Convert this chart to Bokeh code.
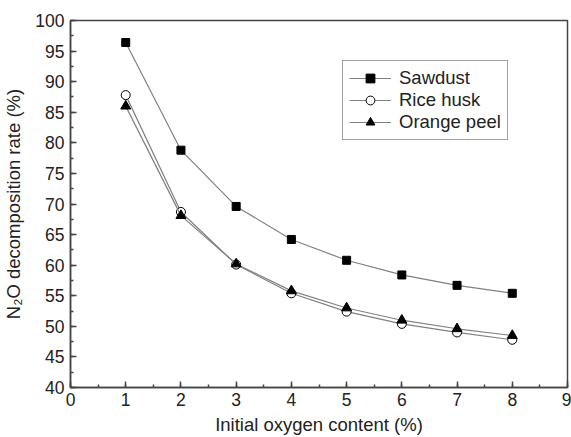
from bokeh.plotting import figure
from bokeh.models import Range1d, SingleIntervalTicker, Legend, LegendItem
from bokeh.embed import file_html
from bokeh.resources import INLINE

oxygen = [1, 2, 3, 4, 5, 6, 7, 8]
sawdust = [96.4, 78.8, 69.6, 64.2, 60.8, 58.4, 56.7, 55.4]
rice_husk = [87.8, 68.7, 60.1, 55.4, 52.4, 50.4, 49.0, 47.8]
orange_peel = [86.0, 68.1, 60.2, 55.8, 53.0, 51.0, 49.6, 48.5]

FONT = "Liberation Sans"
TXT = "#222222"
AX = "#444444"

p = figure(width=571, height=437, output_backend="svg", toolbar_location=None,
           x_range=Range1d(0, 9), y_range=Range1d(40, 100),
           min_border_left=68, min_border_top=20, min_border_right=4, min_border_bottom=50)
p.background_fill_color = "white"
p.border_fill_color = "white"
p.outline_line_color = AX
p.outline_line_width = 1.5
p.grid.visible = False

p.xaxis.ticker = SingleIntervalTicker(interval=1, num_minor_ticks=2)
p.yaxis.ticker = SingleIntervalTicker(interval=5, num_minor_ticks=2)
for ax in (p.xaxis[0], p.yaxis[0]):
    ax.major_tick_in = 6
    ax.major_tick_out = 0
    ax.minor_tick_in = 3
    ax.minor_tick_out = 0
    ax.axis_line_color = AX
    ax.axis_line_width = 1.5
    ax.major_tick_line_color = AX
    ax.minor_tick_line_color = AX
    ax.major_tick_line_width = 1.5
    ax.minor_tick_line_width = 1.5
    ax.major_label_text_font = FONT
    ax.major_label_text_font_size = "17.5px"
    ax.major_label_text_color = TXT
    ax.axis_label_text_font = FONT
    ax.axis_label_text_font_size = "18.5px"
    ax.axis_label_text_font_style = "normal"
    ax.axis_label_text_color = TXT
p.xaxis.axis_label = "Initial oxygen content (%)"
p.yaxis.axis_label = "N\u2082O decomposition rate (%)"
p.xaxis.major_label_standoff = 5
p.yaxis.major_label_standoff = 6
p.xaxis.axis_label_standoff = 5
p.yaxis.axis_label_standoff = 8

LINE = "#808080"
l1 = p.line(oxygen, sawdust, line_color=LINE, line_width=1.2)
s1 = p.scatter(oxygen, sawdust, marker="square", size=8, fill_color="black", line_color="black")
l2 = p.line(oxygen, rice_husk, line_color=LINE, line_width=1.2)
s2 = p.scatter(oxygen, rice_husk, marker="circle", size=9, fill_color="white", line_color="black", line_width=1)
l3 = p.line(oxygen, orange_peel, line_color=LINE, line_width=1.2)
s3 = p.scatter(oxygen, orange_peel, marker="triangle", size=10, fill_color="black", line_color="black")

legend = Legend(items=[
    LegendItem(label="Sawdust", renderers=[l1, s1]),
    LegendItem(label="Rice husk", renderers=[l2, s2]),
    LegendItem(label="Orange peel", renderers=[l3, s3]),
], location=(272, 247))
legend.label_text_font = FONT
legend.label_text_font_size = "18.5px"
legend.label_text_color = TXT
legend.border_line_color = AX
legend.border_line_width = 1.5
legend.padding = 6
legend.spacing = 0
legend.margin = 0
legend.glyph_width = 42
legend.glyph_height = 22
legend.label_height = 22
legend.label_standoff = 8
legend.background_fill_alpha = 1
p.add_layout(legend)

open("out.html", "w").write(file_html(p, INLINE))
